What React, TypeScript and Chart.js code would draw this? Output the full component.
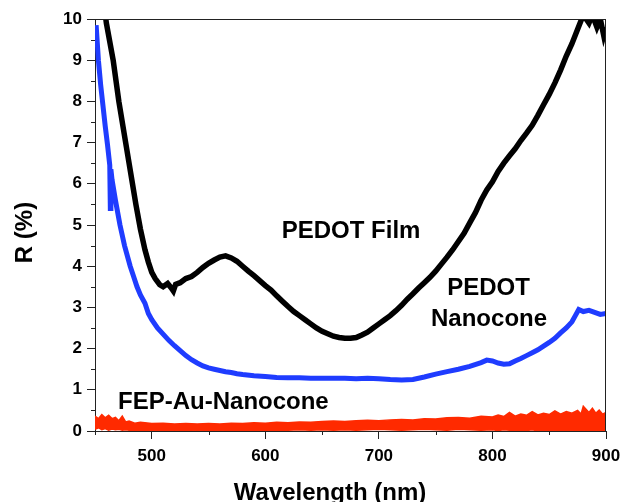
import React, { useEffect, useRef } from 'react';
import { Chart, registerables } from 'chart.js';

Chart.register(...registerables);

// PEDOT Film (black)
const filmNm = [455, 460, 466, 471, 477, 483, 486, 490, 494, 497, 500, 503, 507, 510, 514, 517, 519, 521, 525, 530, 535, 540, 545, 550, 555, 560, 565, 570, 575, 580, 585, 590, 595, 600, 605, 610, 615, 620, 625, 630, 635, 640, 645, 650, 655, 660, 665, 670, 675, 680, 685, 690, 695, 700, 705, 710, 715, 720, 725, 730, 735, 740, 745, 750, 755, 760, 765, 770, 775, 780, 785, 790, 795, 800, 805, 810, 815, 820, 825, 830, 835, 840, 845, 850, 855, 860, 865, 870, 875, 880, 885, 888, 892, 895, 898, 900];
const filmR = [11.0, 9.9, 9.0, 8.0, 7.0, 6.0, 5.5, 4.9, 4.4, 4.1, 3.85, 3.7, 3.55, 3.5, 3.58, 3.48, 3.4, 3.56, 3.6, 3.7, 3.75, 3.85, 3.97, 4.07, 4.15, 4.22, 4.25, 4.2, 4.12, 4.0, 3.88, 3.77, 3.65, 3.53, 3.42, 3.28, 3.15, 3.02, 2.9, 2.8, 2.7, 2.6, 2.5, 2.42, 2.36, 2.3, 2.27, 2.25, 2.25, 2.27, 2.33, 2.4, 2.5, 2.6, 2.7, 2.8, 2.92, 3.05, 3.2, 3.33, 3.47, 3.6, 3.73, 3.88, 4.05, 4.22, 4.4, 4.6, 4.8, 5.05, 5.3, 5.6, 5.85, 6.05, 6.3, 6.5, 6.68, 6.85, 7.05, 7.23, 7.42, 7.66, 7.92, 8.17, 8.45, 8.76, 9.1, 9.4, 9.75, 10.1, 9.9, 10.1, 9.8, 10.0, 9.6, 9.8];

// PEDOT Nanocone (blue)
const coneNm = [451, 453, 455, 457, 459, 461, 463, 463.5, 464, 465, 468, 472, 476, 481, 484, 487, 490, 494, 497, 500, 505, 510, 515, 520, 525, 530, 535, 540, 545, 550, 555, 560, 565, 570, 575, 580, 590, 600, 610, 620, 630, 640, 650, 660, 670, 680, 690, 700, 710, 720, 730, 740, 750, 760, 770, 780, 790, 795, 800, 805, 810, 815, 820, 825, 830, 835, 840, 845, 850, 855, 860, 865, 870, 873, 876, 880, 885, 890, 895, 900];
const coneR = [9.85, 9.0, 8.4, 7.9, 7.4, 6.95, 6.45, 5.4, 6.35, 6.1, 5.6, 5.0, 4.5, 4.0, 3.75, 3.5, 3.3, 3.1, 2.85, 2.7, 2.5, 2.35, 2.2, 2.07, 1.95, 1.83, 1.73, 1.65, 1.58, 1.53, 1.5, 1.47, 1.44, 1.42, 1.39, 1.37, 1.34, 1.32, 1.3, 1.29, 1.29, 1.28, 1.28, 1.28, 1.28, 1.27, 1.28, 1.27, 1.25, 1.24, 1.25, 1.31, 1.38, 1.44, 1.5, 1.57, 1.66, 1.72, 1.7, 1.65, 1.62, 1.63, 1.7, 1.76, 1.83, 1.9, 1.97, 2.06, 2.15, 2.25, 2.38, 2.5, 2.65, 2.8, 2.95, 2.9, 2.93, 2.88, 2.83, 2.85];

// FEP-Au-Nanocone (red) — noise band, upper and lower edges
const fepNm = [450, 453, 456, 459, 462, 465, 468, 471, 474, 477, 480, 485, 490, 500, 510, 520, 530, 540, 550, 560, 570, 580, 590, 600, 610, 620, 630, 640, 650, 660, 670, 680, 690, 700, 710, 720, 730, 740, 750, 760, 770, 780, 790, 800, 805, 810, 815, 820, 825, 830, 835, 840, 845, 850, 855, 860, 865, 870, 875, 878, 880, 885, 888, 891, 894, 897, 900];
const fepUpper = [0.36, 0.3, 0.4, 0.32, 0.38, 0.3, 0.33, 0.25, 0.36, 0.22, 0.24, 0.19, 0.21, 0.18, 0.19, 0.17, 0.18, 0.17, 0.18, 0.17, 0.19, 0.18, 0.2, 0.19, 0.21, 0.2, 0.22, 0.21, 0.23, 0.24, 0.23, 0.25, 0.26, 0.25, 0.27, 0.28, 0.27, 0.3, 0.29, 0.32, 0.33, 0.31, 0.36, 0.34, 0.39, 0.35, 0.45, 0.36, 0.41, 0.38, 0.47, 0.39, 0.43, 0.4, 0.49, 0.41, 0.47, 0.43, 0.5, 0.41, 0.6, 0.45, 0.55, 0.43, 0.51, 0.41, 0.45];
const fepLower = [0.04, 0.08, 0.03, 0.06, 0.02, 0.05, 0.03, 0.04, 0.02, 0.03, 0.02, 0.01, 0.02, 0.0, 0.01, 0.0, 0.01, 0.0, 0.01, 0.0, 0.01, 0.02, 0.01, 0.02, 0.01, 0.02, 0.03, 0.02, 0.03, 0.02, 0.03, 0.02, 0.03, 0.04, 0.03, 0.02, 0.03, 0.04, 0.03, 0.02, 0.04, 0.03, 0.02, 0.03, 0.01, 0.03, 0.02, 0.0, 0.02, 0.01, 0.03, 0.0, 0.02, 0.01, 0.0, 0.02, 0.01, 0.0, 0.02, 0.01, 0.0, 0.02, 0.01, 0.0, 0.01, 0.02, 0.0];

const xTicks = [500, 600, 700, 800, 900];
const xMinorTicks = [450, 550, 650, 750, 850];
const yTicks = [0, 1, 2, 3, 4, 5, 6, 7, 8, 9, 10];
const yMinorTicks = [0.5, 1.5, 2.5, 3.5, 4.5, 5.5, 6.5, 7.5, 8.5, 9.5];

const xTitle = 'Wavelength (nm)';
const yTitle = 'R (%)';

// annotations anchored in data coordinates
const annotations = [
  { text: 'PEDOT Film', x: 675.5, y: 4.68, align: 'center' },
  { text: 'PEDOT', x: 796.5, y: 3.29, align: 'center' },
  { text: 'Nanocone', x: 797, y: 2.56, align: 'center' },
  { text: 'FEP-Au-Nanocone', x: 470.3, y: 0.545, align: 'left' },
];

const FONT = "'Liberation Sans', Arial, sans-serif";

const toPts = (xs: number[], ys: number[]) => xs.map((x, i) => ({ x, y: ys[i] }));

const decorPlugin = {
  id: 'decor',
  afterDraw(chart: any) {
    const { ctx, chartArea } = chart;
    const xs = chart.scales.x;
    const ys = chart.scales.y;
    ctx.save();
    ctx.strokeStyle = '#222';
    ctx.lineWidth = 1;
    ctx.beginPath();
    ctx.moveTo(chartArea.left, chartArea.top + 0.5);
    ctx.lineTo(chartArea.right, chartArea.top + 0.5);
    ctx.moveTo(chartArea.right - 0.5, chartArea.top);
    ctx.lineTo(chartArea.right - 0.5, chartArea.bottom);
    ctx.stroke();
    ctx.beginPath();
    xMinorTicks.forEach((v) => {
      const px = Math.round(xs.getPixelForValue(v)) + 0.5;
      ctx.moveTo(px, chartArea.bottom);
      ctx.lineTo(px, chartArea.bottom + 4);
    });
    yMinorTicks.forEach((v) => {
      const py = Math.round(ys.getPixelForValue(v)) + 0.5;
      ctx.moveTo(chartArea.left, py);
      ctx.lineTo(chartArea.left - 4, py);
    });
    ctx.stroke();
    ctx.fillStyle = '#000';
    ctx.font = `bold 24px ${FONT}`;
    ctx.textBaseline = 'alphabetic';
    annotations.forEach((a) => {
      ctx.textAlign = a.align as CanvasTextAlign;
      ctx.fillText(a.text, xs.getPixelForValue(a.x), ys.getPixelForValue(a.y));
    });
    ctx.textAlign = 'center';
    ctx.fillText(xTitle, 330, 500);
    ctx.translate(31.5, 232.5);
    ctx.rotate(-Math.PI / 2);
    ctx.fillText(yTitle, 0, 0);
    ctx.restore();
  },
};

export default function App() {
  const ref = useRef<HTMLCanvasElement>(null);
  useEffect(() => {
    const chart = new Chart(ref.current as HTMLCanvasElement, {
      type: 'line',
      data: {
        datasets: [
          {
            label: 'FEP-Au-Nanocone upper',
            data: toPts(fepNm, fepUpper),
            borderColor: '#ff2a00',
            backgroundColor: '#ff2a00',
            borderWidth: 1.5,
            pointRadius: 0,
            tension: 0,
            fill: '+1',
            clip: 0,
          },
          {
            label: 'FEP-Au-Nanocone lower',
            data: toPts(fepNm, fepLower),
            borderColor: '#ff2a00',
            borderWidth: 1.5,
            pointRadius: 0,
            tension: 0,
            fill: false,
            clip: 0,
          },
          {
            label: 'PEDOT Nanocone',
            data: toPts(coneNm, coneR),
            borderColor: '#1f3cff',
            borderWidth: 5,
            pointRadius: 0,
            tension: 0,
            fill: false,
            clip: 0,
          },
          {
            label: 'PEDOT Film',
            data: toPts(filmNm, filmR),
            borderColor: '#000000',
            borderWidth: 5.5,
            pointRadius: 0,
            tension: 0,
            fill: false,
            clip: 0,
          },
        ],
      } as any,
      options: {
        responsive: false,
        animation: false,
        events: [],
        layout: { padding: { top: 19, right: 15, left: 0, bottom: 0 } },
        plugins: { legend: { display: false }, tooltip: { enabled: false } },
        scales: {
          x: {
            type: 'linear',
            min: 450,
            max: 900,
            afterFit: (s: any) => { s.height = 71; s.paddingRight = 0; s.paddingLeft = 0; },
            afterBuildTicks: (s: any) => { s.ticks = xTicks.map((v) => ({ value: v })); },
            grid: { display: true, drawOnChartArea: false, drawTicks: true, tickLength: 8, color: '#222', lineWidth: 1 },
            border: { display: true, color: '#222', width: 1 },
            ticks: { color: '#000', font: { family: FONT, size: 17, weight: 'bold' }, padding: 7, maxRotation: 0 },
          },
          y: {
            type: 'linear',
            min: 0,
            max: 10,
            afterFit: (s: any) => { s.width = 95; s.paddingTop = 0; s.paddingBottom = 0; },
            afterBuildTicks: (s: any) => { s.ticks = yTicks.map((v) => ({ value: v })); },
            grid: { display: true, drawOnChartArea: false, drawTicks: true, tickLength: 8, color: '#222', lineWidth: 1 },
            border: { display: true, color: '#222', width: 1 },
            ticks: { color: '#000', font: { family: FONT, size: 17, weight: 'bold' }, padding: 5 },
          },
        },
      } as any,
      plugins: [decorPlugin],
    });
    return () => chart.destroy();
  }, []);
  return (
    <div style={{ position: 'absolute', left: 0, top: 0, width: 621, height: 502, background: '#fff' }}>
      <canvas ref={ref} width={621} height={502} />
    </div>
  );
}
